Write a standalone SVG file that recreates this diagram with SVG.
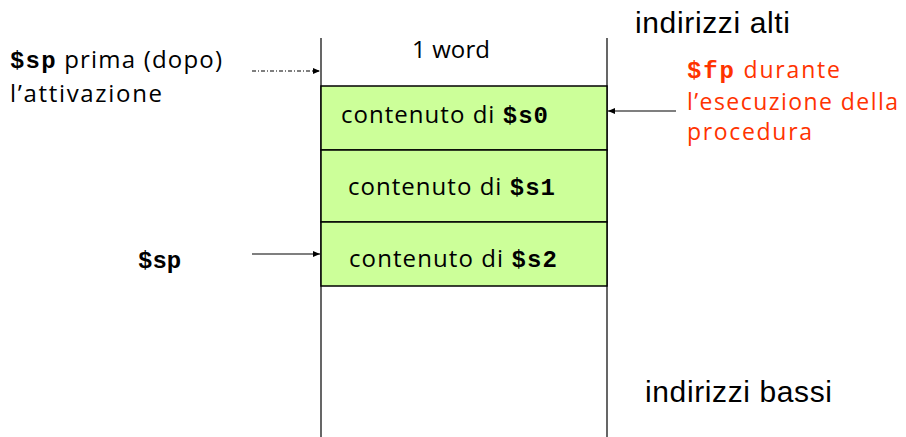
<svg xmlns="http://www.w3.org/2000/svg" width="906" height="437" viewBox="0 0 906 437">
<style>
.c{font-family:"Open Sans","DejaVu Sans",sans-serif;font-size:24px;fill:#000}
.m{font-family:"Liberation Mono",monospace;font-weight:bold;font-size:24px}
.a{font-family:"Liberation Sans",Arial,sans-serif;font-size:30px;fill:#000}
.r{font-family:"Open Sans","DejaVu Sans",sans-serif;font-size:23px;fill:#ff3300}
.cell{fill:#ccff99;stroke:#000;stroke-width:1.5}
.ln{stroke:#000;stroke-width:1.2;fill:none}
</style>
<defs>
<marker id="ah" markerWidth="8" markerHeight="8" refX="7" refY="4" orient="auto" markerUnits="userSpaceOnUse">
<path d="M0,1 L7,4 L0,7 Z" fill="#000"/>
</marker>
</defs>
<g id="stack">
<line class="ln" x1="321" y1="38" x2="321" y2="437"/>
<line class="ln" x1="607" y1="38" x2="607" y2="437"/>
<text class="c" x="412" y="58" font-size="23" textLength="78" lengthAdjust="spacing">1 word</text>
</g>
<g id="s0">
<rect class="cell" x="321" y="86" width="286" height="64"/>
<text class="c" x="341" y="123" textLength="207" lengthAdjust="spacing">contenuto di <tspan class="m">$s0</tspan></text>
</g>
<g id="s1">
<rect class="cell" x="321" y="150" width="286" height="72"/>
<text class="c" x="348" y="195" textLength="207" lengthAdjust="spacing">contenuto di <tspan class="m">$s1</tspan></text>
</g>
<g id="s2">
<rect class="cell" x="321" y="222" width="286" height="64"/>
<text class="c" x="349" y="267" textLength="208" lengthAdjust="spacing">contenuto di <tspan class="m">$s2</tspan></text>
</g>
<g id="sp-before">
<text class="c" x="10" y="68" textLength="212" lengthAdjust="spacing"><tspan class="m">$sp</tspan> prima (dopo)</text>
<text class="c" x="10" y="102" textLength="152" lengthAdjust="spacing">l’attivazione</text>
</g>
<g id="sp">
<text class="c m" x="138" y="268">$sp</text>
</g>
<g id="fp">
<text class="r" x="687" y="78" textLength="153" lengthAdjust="spacing"><tspan class="m">$fp</tspan> durante</text>
<text class="r" x="687" y="110" textLength="211" lengthAdjust="spacing">l’esecuzione della</text>
<text class="r" x="687" y="140" textLength="125" lengthAdjust="spacing">procedura</text>
</g>
<g id="hi"><text class="a" x="635" y="33" textLength="155" lengthAdjust="spacing">indirizzi alti</text></g>
<g id="lo"><text class="a" x="645" y="402" textLength="187" lengthAdjust="spacing">indirizzi bassi</text></g>
<g id="connectors">
<line class="ln" x1="252" y1="71" x2="320" y2="71" stroke-dasharray="4,2,1,2" marker-end="url(#ah)"/>
<line class="ln" x1="252" y1="254" x2="320" y2="254" marker-end="url(#ah)"/>
<line class="ln" x1="676" y1="111" x2="608" y2="111" marker-end="url(#ah)"/>
</g>
</svg>
